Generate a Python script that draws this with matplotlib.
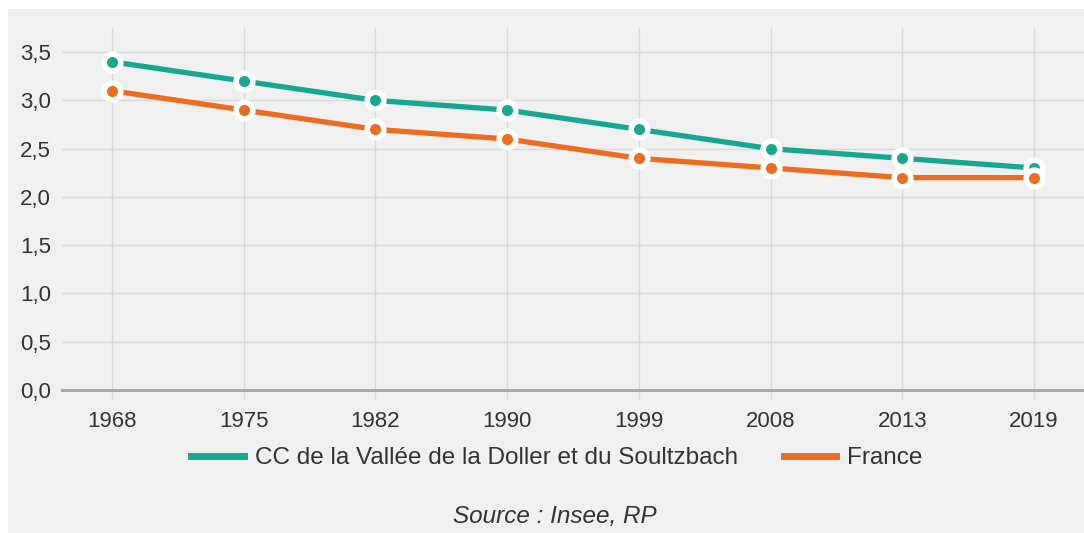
import matplotlib
matplotlib.use('Agg')
import matplotlib.pyplot as plt
from matplotlib.patches import Rectangle
from matplotlib.lines import Line2D

years = ['1968', '1975', '1982', '1990', '1999', '2008', '2013', '2019']
cc_doller = [3.4, 3.2, 3.0, 2.9, 2.7, 2.5, 2.4, 2.3]
france = [3.1, 2.9, 2.7, 2.6, 2.4, 2.3, 2.2, 2.2]
y_ticks = [0.0, 0.5, 1.0, 1.5, 2.0, 2.5, 3.0, 3.5]
y_labels = ['0,0', '0,5', '1,0', '1,5', '2,0', '2,5', '3,0', '3,5']

TEAL = '#16a88f'
ORANGE = '#ee6c1f'
BG = '#f0f0f0'

plt.rcParams['font.family'] = ['Liberation Sans', 'DejaVu Sans']

W, H = 1084, 533
fig = plt.figure(figsize=(W / 100, H / 100), dpi=100, facecolor='white')
# grey panel with a thin white margin top/left
fig.patches.append(Rectangle((8 / W, 0), 1 - 8 / W, 1 - 9 / H, transform=fig.transFigure,
                             facecolor=BG, edgecolor='none', zorder=-5))

ax = fig.add_axes([62 / W, 1 - 390 / H, 1 - 62 / W, (390 - 28) / H])
ax.set_facecolor('none')

x = list(range(len(years)))
ax.plot(x, cc_doller, color=TEAL, lw=3.8, marker='o', ms=12, mfc=TEAL,
        mec='white', mew=4, zorder=3, solid_capstyle='round')
ax.plot(x, france, color=ORANGE, lw=3.8, marker='o', ms=12, mfc=ORANGE,
        mec='white', mew=4, zorder=3, solid_capstyle='round')

ax.set_xlim(-0.38, 7.38)
ax.set_ylim(0, 3.75)
ax.set_xticks(x)
ax.set_xticklabels(years)
ax.set_yticks(y_ticks)
ax.set_yticklabels(y_labels)

ax.grid(True, color='#d8d8d8', lw=1)
ax.set_axisbelow(True)
for s in ['top', 'right', 'left']:
    ax.spines[s].set_visible(False)
ax.spines['bottom'].set_color('#a8a8a8')
ax.spines['bottom'].set_linewidth(2.2)
ax.spines['bottom'].set_zorder(2)

ax.tick_params(axis='x', length=7, color='#d8d8d8', width=1, pad=8,
               labelsize=16, labelcolor='#333333')
ax.tick_params(axis='y', length=0, pad=8, labelsize=16, labelcolor='#333333')

handles = [Line2D([], [], color=TEAL, lw=5),
           Line2D([], [], color=ORANGE, lw=5)]
fig.legend(handles, ['CC de la Vallée de la Doller et du Soultzbach', 'France'],
           loc='center', bbox_to_anchor=(557 / W, 1 - 458 / H), ncol=2,
           frameon=False, fontsize=17.5, handlelength=2.15, handletextpad=0.45,
           columnspacing=1.9, labelcolor='#333333')

fig.text(555 / W, 1 - 516 / H, 'Source : Insee, RP', ha='center', va='center',
         fontsize=17.5, style='italic', color='#333333')

fig.savefig('out.png', dpi=100, facecolor=fig.get_facecolor())
